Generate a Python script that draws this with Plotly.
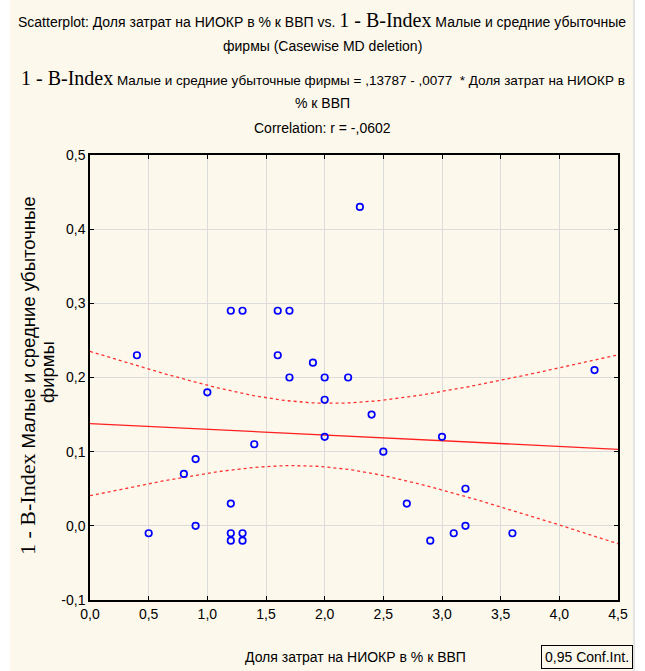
import numpy as np
import plotly.graph_objects as go

# ---- data ----
x_rd = [0.4, 1.2, 1.3, 1.6, 1.7, 1.6, 1.9, 1.7, 2.0, 2.2, 2.3, 4.3, 1.0, 2.0, 2.0, 1.4, 0.9,
        0.8, 1.2, 0.9, 0.5, 1.2, 1.2, 1.3, 1.3, 2.4, 3.0, 2.5, 3.2, 2.7, 2.9, 3.1, 3.2, 3.6]
y_bindex = [0.23, 0.29, 0.29, 0.29, 0.29, 0.23, 0.22, 0.20, 0.20, 0.20, 0.43, 0.21, 0.18, 0.17, 0.12, 0.11, 0.09,
            0.07, 0.03, 0.00, -0.01, -0.01, -0.02, -0.01, -0.02, 0.15, 0.12, 0.10, 0.05, 0.03, -0.02, -0.01, 0.00, -0.01]
intercept = 0.13787
slope = -0.0077
x_ticks = [0.0, 0.5, 1.0, 1.5, 2.0, 2.5, 3.0, 3.5, 4.0, 4.5]
x_ticklabels = ["0,0", "0,5", "1,0", "1,5", "2,0", "2,5", "3,0", "3,5", "4,0", "4,5"]
y_ticks = [-0.1, 0.0, 0.1, 0.2, 0.3, 0.4, 0.5]
y_ticklabels = ["-0,1", "0,0", "0,1", "0,2", "0,3", "0,4", "0,5"]

# ---- regression & confidence band ----
xa = np.array(x_rd)
ya = np.array(y_bindex)
n = len(xa)
resid = ya - (intercept + slope * xa)
s = np.sqrt(np.sum(resid ** 2) / (n - 2))
xm = xa.mean()
sxx = np.sum((xa - xm) ** 2)
tcrit = 2.037
xg = np.linspace(0, 4.5, 101)
yfit = intercept + slope * xg
half = tcrit * s * np.sqrt(1 / n + (xg - xm) ** 2 / sxx)

# ---- layout geometry (pixels) ----
W, H = 645, 671
L, R, T, B = 90, 618, 155, 600
pw, ph = R - L, B - T


def px(xp):
    return (xp - L) / pw


def py(yp):
    return (B - yp) / ph


NARROW = "Liberation Sans Narrow, Arial Narrow, Liberation Sans, Arial, sans-serif"
SERIF = "Liberation Serif, Times New Roman, serif"


def bi(size):
    return "<span style='font-family:%s;font-size:%spx'>1 - B-Index</span>" % (SERIF, size)


fig = go.Figure()
fig.add_trace(go.Scatter(x=xg, y=yfit + half, mode="lines",
                         line=dict(color="#ff3030", width=1.3, dash="dot"), hoverinfo="skip"))
fig.add_trace(go.Scatter(x=xg, y=yfit - half, mode="lines",
                         line=dict(color="#ff3030", width=1.3, dash="dot"), hoverinfo="skip"))
fig.add_trace(go.Scatter(x=xg, y=yfit, mode="lines",
                         line=dict(color="#ff2020", width=1.3), hoverinfo="skip"))
fig.add_trace(go.Scatter(x=x_rd, y=y_bindex, mode="markers",
                         marker=dict(symbol="circle-open", size=6.5, color="#0000ff",
                                     line=dict(width=1.7, color="#0000ff"))))

annotations = []


def ann(text, xp, yp, size=14, xanchor="center", yanchor="middle", angle=0, font=NARROW):
    annotations.append(dict(text=text, x=px(xp), y=py(yp), xref="paper", yref="paper",
                            showarrow=False, xanchor=xanchor, yanchor=yanchor, textangle=angle,
                            font=dict(family=font, size=size, color="#000000")))


ann("Scatterplot: Доля затрат на НИОКР в % к ВВП vs. " + bi(20) + " Малые и средние убыточные", 322, 20)
ann("фирмы (Casewise MD deletion)", 322, 46)
ann(bi(20) + " Малые и средние убыточные фирмы = ,13787 - ,0077  * Доля затрат на НИОКР в", 323, 78,
    size=13.5)
ann("% к ВВП", 322, 103)
ann("Correlation: r = -,0602", 322, 128)
ann(bi(22) + " Малые и средние убыточные", 27, 376, size=18.5, angle=-90)
ann("фирмы", 47, 372, size=18.5, angle=-90)
ann("Доля затрат на НИОКР в % к ВВП", 355, 657)
annotations.append(dict(text="0,95 Conf.Int.", x=px(587), y=py(657), xref="paper", yref="paper",
                        showarrow=False, xanchor="center", yanchor="middle",
                        font=dict(family=NARROW, size=14, color="#000000"),
                        bordercolor="#000000", borderwidth=1, borderpad=3, bgcolor="#fdf8ec"))

shapes = [
    dict(type="rect", xref="paper", yref="paper", x0=px(10), x1=px(633), y0=py(H), y1=py(0),
         fillcolor="#fdf8ec", line=dict(width=0), layer="below"),
    dict(type="line", xref="paper", yref="paper", x0=px(634), x1=px(634), y0=py(H), y1=py(0),
         line=dict(color="#c8c8c8", width=1), layer="below"),
]

fig.update_layout(
    width=W, height=H,
    margin=dict(l=L, r=W - R, t=T, b=H - B),
    paper_bgcolor="#ffffff", plot_bgcolor="#ffffff",
    showlegend=False,
    annotations=annotations,
    shapes=shapes,
    font=dict(family=NARROW, size=14, color="#000000"),
    xaxis=dict(range=[0, 4.5], tickvals=x_ticks, ticktext=x_ticklabels,
               showgrid=True, gridcolor="#dcdcdc", gridwidth=1, zeroline=False,
               showline=True, linecolor="#000000", linewidth=1.5, mirror="ticks",
               ticks="inside", ticklen=4, tickcolor="#000000",
               tickfont=dict(family=NARROW, size=14)),
    yaxis=dict(range=[-0.1, 0.5], tickvals=y_ticks, ticktext=y_ticklabels,
               showgrid=True, gridcolor="#dcdcdc", gridwidth=1, zeroline=False,
               showline=True, linecolor="#000000", linewidth=1.5, mirror="ticks",
               ticks="inside", ticklen=4, tickcolor="#000000",
               tickfont=dict(family=NARROW, size=14)),
)

fig.write_html("out.html", config={"displayModeBar": False},
               post_script="document.body.style.margin='0px';")
